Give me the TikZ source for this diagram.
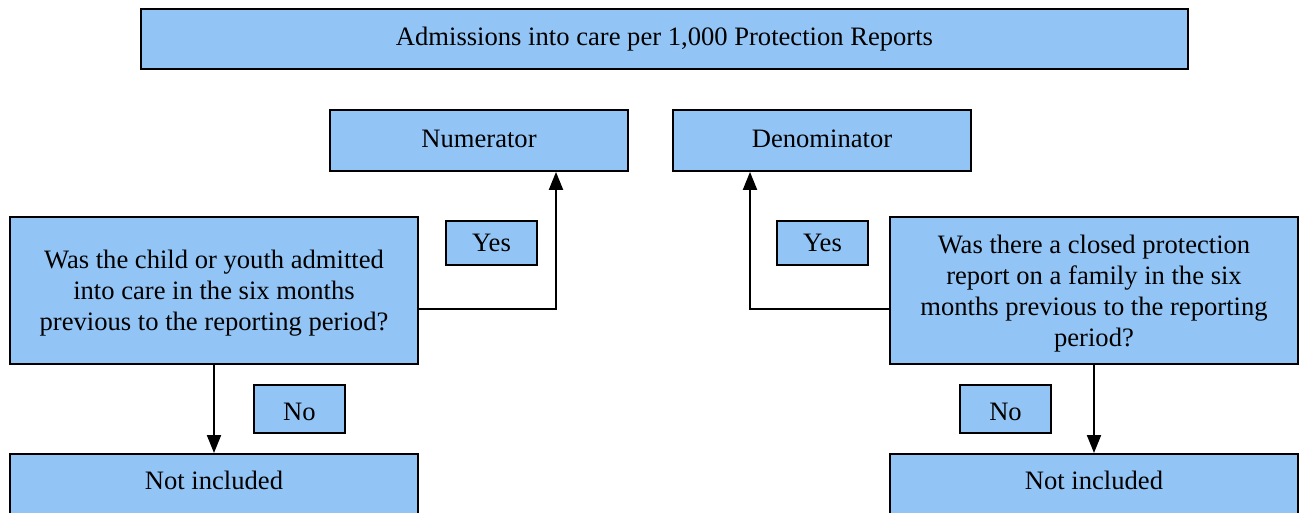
\documentclass[tikz,border=0pt]{standalone}
\usepackage{fontspec}
\setmainfont{Liberation Serif}
\usetikzlibrary{arrows.meta}
\definecolor{boxblue}{RGB}{146,197,245}
\begin{document}
\begin{tikzpicture}[x=1pt,y=-1pt,
  box/.style={draw=black,line width=1.8pt,fill=boxblue,inner sep=0pt,align=center,font=\fontsize{26.6}{31}\selectfont},
  arr/.style={line width=2pt,-{Triangle[width=14pt,length=18pt]}}]
\useasboundingbox (0,0) rectangle (1299,512);
\node[box,minimum width=1047,minimum height=60] (title) at (664.5,39) {Admissions into care per 1,000 Protection Reports};
\node[box,minimum width=298,minimum height=61,text depth=4pt] (num) at (479,140.5) {Numerator};
\node[box,minimum width=298,minimum height=61,text depth=4pt] (den) at (822,140.5) {Denominator};
\node[box,minimum width=408,minimum height=147,text depth=0pt] (q1) at (214,290.5) {Was the child or youth admitted\\into care in the six months\\previous to the reporting period?};
\node[box,minimum width=408,minimum height=147,text depth=0pt] (q2) at (1094,290.5) {Was there a closed protection\\report on a family in the six\\months previous to the reporting\\period?};
\node[box,minimum width=91,minimum height=44] (yes1) at (491.5,243) {Yes};
\node[box,minimum width=91,minimum height=44] (yes2) at (822.5,243) {Yes};
\node[box,minimum width=91,minimum height=48,text height=24pt] (no1) at (299.5,409) {No};
\node[box,minimum width=91,minimum height=48,text height=24pt] (no2) at (1005.5,409) {No};
\node[box,minimum width=408,anchor=north,inner ysep=10pt,text height=26pt,text depth=45pt] (ni1) at (214,453) {Not included};
\node[box,minimum width=408,anchor=north,inner ysep=10pt,text height=26pt,text depth=45pt] (ni2) at (1094,453) {Not included};
\coordinate (c1) at (556,309);
\coordinate (c2) at (750,309);
\draw[arr] (q1.east |- c1) -| (num.south -| c1);
\draw[arr] (q2.west |- c2) -| (den.south -| c2);
\draw[arr] (q1.south) -- (ni1.north);
\draw[arr] (q2.south) -- (ni2.north);
\end{tikzpicture}
\end{document}
